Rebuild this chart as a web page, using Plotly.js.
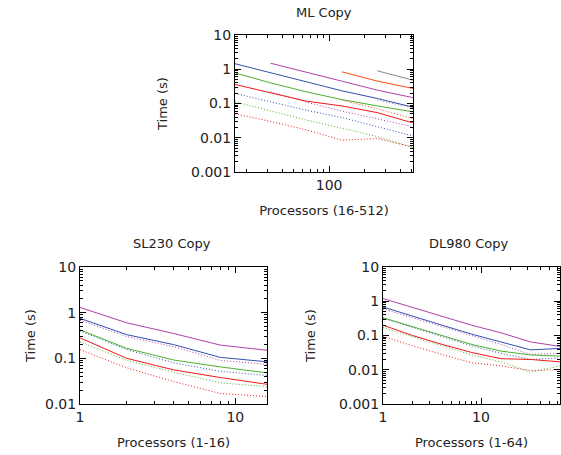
<!DOCTYPE html>
<html>
<head>
<meta charset="utf-8">
<script src="https://cdn.plot.ly/plotly-3.0.1.min.js"></script>
<style>html,body{margin:0;padding:0;background:#fff}#chart{width:561px;height:455px}</style>
</head>
<body>
<div id="chart"></div>
<script>
// ---------- DATA ----------
const titles = ["ML Copy", "SL230 Copy", "DL980 Copy"];
const xTitles = ["Processors (16-512)", "Processors (1-16)", "Processors (1-64)"];
const yTitle = "Time (s)";

// ML Copy (processors 16..512)
const mlProcs = [16, 32, 64, 128, 256, 512];
const mlBlue = [1.45, 0.8, 0.43, 0.235, 0.14, 0.078];
const mlGreen = [0.78, 0.4, 0.22, 0.13, 0.085, 0.057];
const mlRed = [0.36, 0.2, 0.117, 0.085, 0.054, 0.027];
const mlMagenta = [null, 1.5, 0.84, 0.45, 0.245, 0.148];
const mlOrange = [null, null, null, 0.84, 0.45, 0.275];
const mlGray = [null, null, null, null, 0.9, 0.48];
const mlBlueDot = [0.197, 0.112, 0.064, 0.039, 0.021, 0.0113];
const mlGreenDot = [0.112, 0.061, 0.033, 0.019, 0.0108, 0.0052];
const mlRedDot = [0.05, 0.03, 0.017, 0.0085, 0.0095, 0.0053];
const mlMagentaDot = [null, 0.22, 0.11, 0.06, 0.035, 0.021];
const mlOrangeDot = [null, null, null, 0.125, 0.07, 0.036];
const mlGrayDot = [null, null, null, null, 0.125, 0.075];

// SL230 Copy (processors 1..16)
const slProcs = [1, 2, 4, 8, 16];
const slMagenta = [1.3, 0.6, 0.35, 0.195, 0.15];
const slBlue = [0.75, 0.33, 0.2, 0.105, 0.084];
const slMagentaDot = [0.68, 0.3, 0.18, 0.09, 0.074];
const slGreen = [0.42, 0.165, 0.092, 0.065, 0.048];
const slBlueDot = [0.4, 0.155, 0.08, 0.052, 0.042];
const slRed = [0.28, 0.1, 0.056, 0.038, 0.027];
const slGreenDot = [0.23, 0.09, 0.05, 0.029, 0.024];
const slRedDot = [0.155, 0.062, 0.031, 0.017, 0.0145];

// DL980 Copy (processors 1..64)
const dlProcs = [1, 2, 4, 8, 16, 32, 64];
const dlMagenta = [1.2, 0.65, 0.36, 0.2, 0.12, 0.065, 0.048];
const dlBlue = [0.68, 0.36, 0.2, 0.11, 0.065, 0.038, 0.042];
const dlMagentaDot = [0.6, 0.33, 0.18, 0.1, 0.055, 0.028, 0.03];
const dlGreen = [0.33, 0.18, 0.1, 0.055, 0.035, 0.027, 0.025];
const dlBlueDot = [0.32, 0.17, 0.09, 0.05, 0.03, 0.02, 0.022];
const dlRed = [0.2, 0.1, 0.055, 0.032, 0.021, 0.02, 0.017];
const dlGreenDot = [0.17, 0.09, 0.05, 0.027, 0.017, 0.0085, 0.013];
const dlRedDot = [0.095, 0.05, 0.028, 0.016, 0.013, 0.0095, 0.01];

// ---------- STYLE ----------
const C = {red: "#f01818", green: "#4cb030", blue: "#3050b0", magenta: "#b040a8", orange: "#ff4a10", gray: "#888888"};
const FONT = "DejaVu Sans, sans-serif";
const TXT = "#222";

function tr(x, y, color, dotted, xa, ya) {
  return {x: x, y: y, type: "scatter", mode: "lines", xaxis: xa, yaxis: ya,
    line: {color: color, width: 1, dash: dotted ? "1px,2px" : "solid"},
    connectgaps: false, showlegend: false, hoverinfo: "skip"};
}

const traces = [
  tr(mlProcs, mlGrayDot, C.gray, true, "x", "y"),
  tr(mlProcs, mlOrangeDot, C.orange, true, "x", "y"),
  tr(mlProcs, mlMagentaDot, C.magenta, true, "x", "y"),
  tr(mlProcs, mlBlueDot, C.blue, true, "x", "y"),
  tr(mlProcs, mlGreenDot, C.green, true, "x", "y"),
  tr(mlProcs, mlRedDot, C.red, true, "x", "y"),
  tr(mlProcs, mlGray, C.gray, false, "x", "y"),
  tr(mlProcs, mlOrange, C.orange, false, "x", "y"),
  tr(mlProcs, mlMagenta, C.magenta, false, "x", "y"),
  tr(mlProcs, mlBlue, C.blue, false, "x", "y"),
  tr(mlProcs, mlGreen, C.green, false, "x", "y"),
  tr(mlProcs, mlRed, C.red, false, "x", "y"),

  tr(slProcs, slMagentaDot, C.magenta, true, "x2", "y2"),
  tr(slProcs, slBlueDot, C.blue, true, "x2", "y2"),
  tr(slProcs, slGreenDot, C.green, true, "x2", "y2"),
  tr(slProcs, slRedDot, C.red, true, "x2", "y2"),
  tr(slProcs, slMagenta, C.magenta, false, "x2", "y2"),
  tr(slProcs, slBlue, C.blue, false, "x2", "y2"),
  tr(slProcs, slGreen, C.green, false, "x2", "y2"),
  tr(slProcs, slRed, C.red, false, "x2", "y2"),

  tr(dlProcs, dlMagentaDot, C.magenta, true, "x3", "y3"),
  tr(dlProcs, dlBlueDot, C.blue, true, "x3", "y3"),
  tr(dlProcs, dlGreenDot, C.green, true, "x3", "y3"),
  tr(dlProcs, dlRedDot, C.red, true, "x3", "y3"),
  tr(dlProcs, dlMagenta, C.magenta, false, "x3", "y3"),
  tr(dlProcs, dlBlue, C.blue, false, "x3", "y3"),
  tr(dlProcs, dlGreen, C.green, false, "x3", "y3"),
  tr(dlProcs, dlRed, C.red, false, "x3", "y3")
];

function minorVals(lo, hi) {
  const v = [];
  for (let e = lo; e < hi; e++) for (let m = 2; m <= 9; m++) v.push(m * Math.pow(10, e));
  return v;
}

function axis(domain, range, tickvals, ticktext, minorLo, minorHi, title, standoff, anchor) {
  const a = {
    type: "log", domain: domain, range: range, anchor: anchor,
    showline: true, linecolor: "#000", linewidth: 1, mirror: "allticks",
    ticks: "inside", ticklen: 6, tickwidth: 1, tickcolor: "#000",
    tickvals: tickvals, ticktext: ticktext,
    tickfont: {family: FONT, size: 14, color: TXT},
    showgrid: false, zeroline: false, fixedrange: true,
    minor: {tickvals: minorVals(minorLo, minorHi), ticks: "inside", ticklen: 3, tickwidth: 1, tickcolor: "#000", showgrid: false},
    automargin: false
  };
  if (title) a.title = {text: title, font: {family: FONT, size: 13, color: TXT}, standoff: standoff};
  return a;
}

const W = 561, H = 455;
const fx = p => p / W, fy = p => 1 - p / H;

const layout = {
  width: W, height: H,
  margin: {l: 0, r: 0, t: 0, b: 0},
  paper_bgcolor: "#fff", plot_bgcolor: "#fff",
  showlegend: false,
  xaxis: axis([fx(235), fx(413)], [Math.log10(16), Math.log10(512)], [100], ["100"], 1, 3, xTitles[0], 14, "y"),
  yaxis: axis([fy(172), fy(35)], [-3, 1], [0.001, 0.01, 0.1, 1, 10], ["0.001", "0.01", "0.1", "1", "10"], -3, 1, yTitle, 20, "x"),
  xaxis2: axis([fx(80), fx(267)], [0, Math.log10(16)], [1, 10], ["1", "10"], 0, 2, xTitles[1], 14, "y2"),
  yaxis2: axis([fy(404), fy(267)], [-2, 1], [0.01, 0.1, 1, 10], ["0.01", "0.1", "1", "10"], -2, 1, yTitle, 6, "x2"),
  xaxis3: axis([fx(383), fx(560)], [0, Math.log10(64)], [1, 10], ["1", "10"], 0, 2, xTitles[2], 14, "y3"),
  yaxis3: axis([fy(404), fy(267)], [-3, 1], [0.001, 0.01, 0.1, 1, 10], ["0.001", "0.01", "0.1", "1", "10"], -3, 1, yTitle, 20, "x3"),
  annotations: [
    {text: titles[0], x: fx(324), y: fy(12), xref: "paper", yref: "paper", showarrow: false, xanchor: "center", yanchor: "middle", font: {family: FONT, size: 13, color: TXT}},
    {text: titles[1], x: fx(172), y: fy(243), xref: "paper", yref: "paper", showarrow: false, xanchor: "center", yanchor: "middle", font: {family: FONT, size: 13, color: TXT}},
    {text: titles[2], x: fx(468), y: fy(243), xref: "paper", yref: "paper", showarrow: false, xanchor: "center", yanchor: "middle", font: {family: FONT, size: 13, color: TXT}}
  ]
};

Plotly.newPlot("chart", traces, layout, {displayModeBar: false, staticPlot: true});
</script>
</body>
</html>
